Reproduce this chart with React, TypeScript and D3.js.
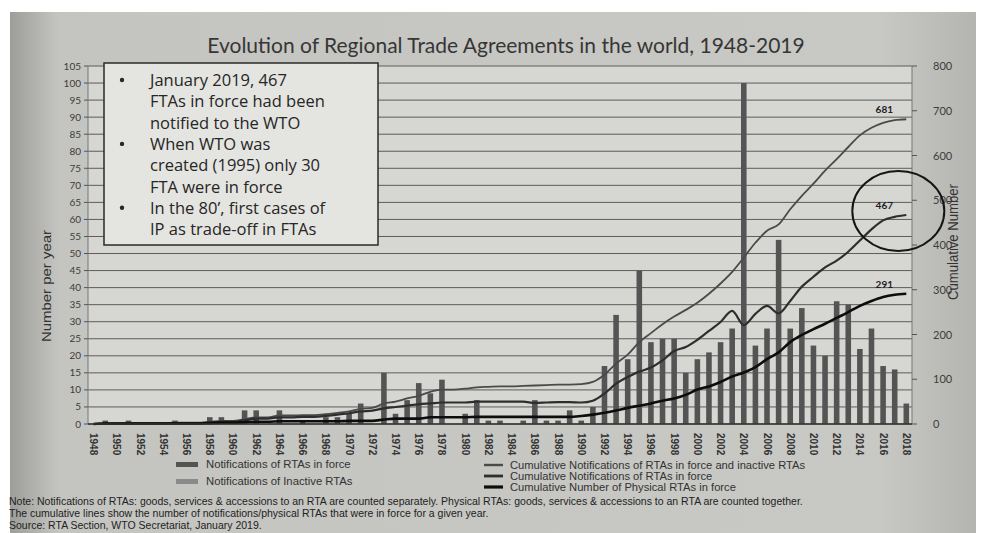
import React from 'react';
import * as d3 from 'd3';

// years on the x axis
const years = d3.range(1948, 2019);

// notifications of RTAs in force, per year (left axis)
const inForce = [
  0, 1, 0, 1, 0, 0, 0, 1, 0, 0,
  2, 2, 0, 4, 4, 0, 4, 0, 1, 0,
  2, 2, 3, 6, 0, 15, 3, 7, 12, 9,
  13, 0, 3, 7, 1, 1, 0, 1, 7, 1,
  1, 4, 1, 5, 17, 32, 19, 45, 24, 25,
  25, 15, 19, 21, 24, 28, 100, 23, 28, 54,
  28, 34, 23, 20, 36, 35, 22, 28, 17, 16,
  6,
];

// cumulative notifications, in force + inactive (right axis)
const cumAll = [
  0, 1, 1, 2, 2, 2, 2, 3, 3, 3,
  5, 7, 7, 11, 15, 15, 19, 19, 20, 20,
  22, 25, 28, 34, 36, 46, 50, 57, 63, 72,
  77, 77, 79, 82, 83, 84, 84, 85, 86, 87,
  88, 88, 89, 94, 110, 135, 155, 183, 203, 223,
  240, 255, 271, 291, 314, 340, 372, 405, 432, 446,
  480, 510, 537, 566, 592, 619, 645, 662, 673, 679,
  681,
];

// cumulative notifications in force
const cumInForce = [
  0, 1, 1, 1, 1, 1, 1, 2, 2, 2,
  3, 5, 5, 8, 12, 12, 15, 15, 16, 16,
  18, 21, 24, 28, 30, 35, 38, 41, 44, 46,
  48, 48, 48, 50, 50, 50, 50, 50, 47, 48,
  49, 49, 48, 52, 68, 90, 105, 117, 126, 142,
  163, 172, 188, 208, 228, 253, 221, 246, 264, 247,
  275, 307, 329, 350, 365, 385, 410, 435, 455, 463,
  467,
];

// cumulative number of physical RTAs in force
const cumPhysical = [
  0, 1, 1, 1, 1, 1, 1, 1, 1, 1,
  2, 3, 3, 4, 5, 5, 6, 6, 6, 6,
  6, 6, 7, 7, 7, 10, 12, 12, 12, 15,
  15, 15, 15, 16, 16, 16, 16, 16, 16, 16,
  16, 16, 18, 21, 25, 30, 36, 41, 46, 52,
  57, 65, 77, 84, 94, 106, 115, 127, 145, 160,
  183, 199, 212, 224, 237, 250, 264, 275, 284, 289,
  291,
];

const leftTicks = d3.range(0, 106, 5);
const rightTicks = [0, 100, 200, 300, 400, 500, 600, 700, 800];

const notes = [
  'January 2019, 467',
  'FTAs in force had been',
  'notified to the WTO',
  'When WTO was',
  'created (1995) only 30',
  'FTA were in force',
  'In the 80\u2019, first cases of',
  'IP as trade-off in FTAs',
];
const bulletRows = [0, 3, 6];

const footNotes = [
  'Note: Notifications of RTAs: goods, services & accessions to an RTA are counted separately. Physical RTAs: goods, services & accessions to an RTA are counted together.',
  'The cumulative lines show the number of notifications/physical RTAs that were in force for a given year.',
  'Source: RTA Section, WTO Secretariat, January 2019.',
];

const narrow = '"Liberation Sans Narrow", "Liberation Sans", sans-serif';

export default function App() {
  const width = 984;
  const height = 533;
  const left = 88, right = 912, top = 66, bottom = 424;

  const x = d3.scaleBand<number>().domain(years).range([left, right]).paddingInner(0.52).paddingOuter(0.25);
  const cx = (yr: number) => (x(yr) as number) + x.bandwidth() / 2;
  const yL = d3.scaleLinear().domain([0, 105]).range([bottom, top]);
  const yR = d3.scaleLinear().domain([0, 800]).range([bottom, top]);

  const line = d3.line<number>()
    .x((d, i) => cx(years[i]))
    .y(d => yR(d))
    .curve(d3.curveMonotoneX);

  const series = [
    { name: 'Cumulative Notifications of RTAs in force and inactive RTAs', values: cumAll, color: '#4a4a4a', w: 1.8 },
    { name: 'Cumulative Notifications of RTAs in force', values: cumInForce, color: '#2e2e2e', w: 2.2 },
    { name: 'Cumulative Number of Physical RTAs in force', values: cumPhysical, color: '#0d0d0d', w: 2.6 },
  ];

  const last = years.length - 1;
  const lastYear = years[last];

  return (
    <svg width={width} height={height} style={{ position: 'absolute', left: 0, top: 0 }}>
      <defs>
        <linearGradient id="paper" x1="0" x2="1" y1="0" y2="0">
          <stop offset="0" stopColor="#9d9d99" />
          <stop offset="0.05" stopColor="#c4c4c0" />
          <stop offset="0.9" stopColor="#c8c8c4" />
          <stop offset="1" stopColor="#b4b4b0" />
        </linearGradient>
      </defs>
      <rect width={width} height={height} fill="#ffffff" />
      <rect x={10} y={12} width={966} height={height - 12} fill="url(#paper)" />
      <rect x={left} y={top} width={right - left} height={bottom - top} fill="#d6d6d2" />

      <text x={506} y={53} textAnchor="middle" fontFamily="Lato, sans-serif" fontSize={21} fill="#363636">
        Evolution of Regional Trade Agreements in the world, 1948-2019
      </text>

      {/* gridlines */}
      {leftTicks.map(t => (
        <line key={t} x1={left} x2={right} y1={yL(t)} y2={yL(t)} stroke="#5c5c5c" strokeWidth={1} />
      ))}
      <line x1={left} x2={left} y1={top} y2={bottom} stroke="#777" />
      <line x1={right} x2={right} y1={top} y2={bottom} stroke="#777" />

      {/* left axis */}
      {leftTicks.map(t => (
        <g key={t}>
          <line x1={left - 4} x2={left} y1={yL(t)} y2={yL(t)} stroke="#555" />
          <text x={left - 7} y={yL(t) + 3.5} textAnchor="end" fontFamily="Lato, sans-serif" fontSize={10} fill="#3c3c3c">{t}</text>
        </g>
      ))}
      <text transform={`translate(51,286) rotate(-90)`} textAnchor="middle" fontFamily={narrow} fontSize={13} textLength={112} lengthAdjust="spacingAndGlyphs" fill="#333">Number per year</text>

      {/* right axis */}
      {rightTicks.map(t => (
        <g key={t}>
          <line x1={right} x2={right + 5} y1={yR(t)} y2={yR(t)} stroke="#555" />
          <text x={right + 21} y={yR(t) + 4} textAnchor="start" fontFamily="Lato, sans-serif" fontSize={11} fill="#3c3c3c">{t}</text>
        </g>
      ))}
      <text transform={`translate(958,242) rotate(-90)`} textAnchor="middle" fontFamily={narrow} fontSize={14} textLength={116} lengthAdjust="spacingAndGlyphs" fill="#333">Cumulative Number</text>

      {/* bars */}
      {inForce.map((v, i) => (
        <rect key={years[i]} x={x(years[i])} y={yL(v)} width={x.bandwidth()} height={bottom - yL(v)} fill="#545454" />
      ))}

      {/* cumulative lines */}
      {series.map(s => (
        <path key={s.name} d={line(s.values) || ''} fill="none" stroke={s.color} strokeWidth={s.w} strokeLinejoin="round" />
      ))}
      {series.map(s => (
        <text key={s.name} x={cx(lastYear) - 22} y={yR(s.values[last]) - 6} textAnchor="middle" fontFamily="Lato, sans-serif" fontWeight="bold" fontSize={10} fill="#222">
          {s.values[last]}
        </text>
      ))}
      <ellipse cx={cx(lastYear) - 8} cy={yR(cumInForce[last]) - 4} rx={46} ry={40} fill="none" stroke="#151515" strokeWidth={2} />

      {/* x axis labels */}
      <line x1={left} x2={right} y1={bottom} y2={bottom} stroke="#333" strokeWidth={1.5} />
      {years.filter(yr => yr % 2 === 0).map(yr => (
        <text key={yr} transform={`translate(${cx(yr) - 3.5},${bottom + 9}) rotate(90)`} fontFamily={narrow} fontWeight="bold" fontSize={10} fill="#333">{yr}</text>
      ))}

      {/* annotation box */}
      <rect x={104} y={63} width={274} height={182} fill="#e4e4e0" stroke="#2a2a2a" strokeWidth={1.5} />
      {notes.map((n, i) => (
        <text key={i} x={150} y={86 + i * 21.3} fontFamily='"Open Sans", sans-serif' fontSize={16.5} fill="#262626">{n}</text>
      ))}
      {bulletRows.map(r => (
        <circle key={r} cx={122} cy={80 + r * 21.3} r={2.2} fill="#262626" />
      ))}

      {/* legend */}
      <rect x={176} y={462} width={22} height={5} fill="#545454" />
      <text x={206} y={468} fontFamily={narrow} fontSize={11.3} fill="#333">Notifications of RTAs in force</text>
      <rect x={176} y={479} width={22} height={5} fill="#8a8a8a" />
      <text x={206} y={485} fontFamily={narrow} fontSize={11.3} fill="#333">Notifications of Inactive RTAs</text>
      {series.map((s, i) => (
        <g key={s.name}>
          <line x1={484} x2={503} y1={465 + i * 11} y2={465 + i * 11} stroke={s.color} strokeWidth={s.w + 0.6} />
          <text x={510} y={469 + i * 11} fontFamily={narrow} fontSize={11.2} fill="#333">{s.name}</text>
        </g>
      ))}

      {footNotes.map((f, i) => (
        <text key={i} x={9} y={505 + i * 12} fontFamily={narrow} fontSize={10.5} fill="#222">{f}</text>
      ))}
    </svg>
  );
}
